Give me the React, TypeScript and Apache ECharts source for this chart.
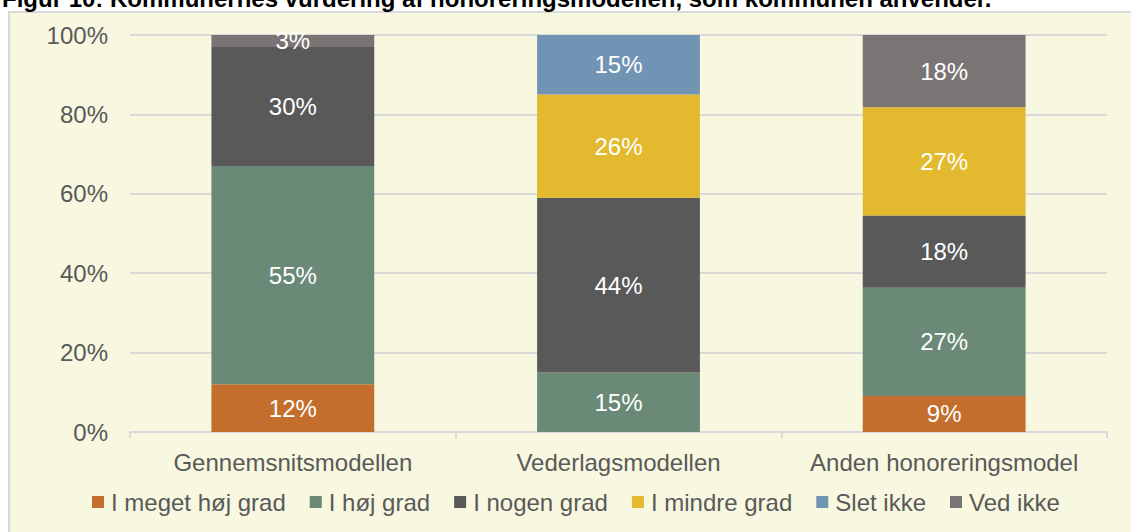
import React, { useEffect, useRef } from "react";
import * as echarts from "echarts";

const categories = ["Gennemsnitsmodellen", "Vederlagsmodellen", "Anden honoreringsmodel"];
const seriesNames = ["I meget høj grad", "I høj grad", "I nogen grad", "I mindre grad", "Slet ikke", "Ved ikke"];
const meget = [12, 0, 9.09];
const hoj = [55, 15, 27.27];
const nogen = [30, 44, 18.18];
const mindre = [0, 26, 27.27];
const slet = [0, 15, 0];
const vedIkke = [3, 0, 18.18];
const seriesValues = [meget, hoj, nogen, mindre, slet, vedIkke];
const colors = ["#C46E2E", "#6A8977", "#595959", "#E3BA2F", "#7294B4", "#7B7474"];
const yTicks = [0, 20, 40, 60, 80, 100];
const title = "Figur 10: Kommunernes vurdering af honoreringsmodellen, som kommunen anvender.";

export default function App() {
  const ref = useRef<HTMLDivElement>(null);
  useEffect(() => {
    if (!ref.current) return;
    const chart = echarts.init(ref.current, undefined, { renderer: "svg" });
    const font = "'Liberation Sans', Arial, sans-serif";
    chart.setOption({
      animation: false,
      textStyle: { fontFamily: font },
      color: colors,
      graphic: [
        {
          type: "rect",
          z: -10,
          silent: true,
          shape: { x: 9, y: 12, width: 1140, height: 540 },
          style: { fill: "#F8F7E0", stroke: "#D9D9D9", lineWidth: 2 },
        },
        {
          type: "text",
          left: 2,
          top: -14,
          silent: true,
          style: { text: title, font: "bold 24px " + font, fill: "#000000" },
        },
      ],
      grid: { left: 130, right: 24, top: 35, bottom: 100, containLabel: false },
      legend: {
        data: seriesNames,
        top: 485,
        left: 87,
        icon: "rect",
        itemWidth: 12,
        itemHeight: 12,
        itemGap: 24,
        textStyle: { fontSize: 24, color: "#595959", fontFamily: font, padding: [0, 0, 0, 2] },
      },
      xAxis: {
        type: "category",
        data: categories,
        axisLine: { lineStyle: { color: "#D9D9D9", width: 2 } },
        axisTick: { show: true, length: 6, lineStyle: { color: "#D9D9D9", width: 2 } },
        axisLabel: { color: "#595959", fontSize: 24, margin: 18, fontFamily: font, interval: 0 },
      },
      yAxis: {
        type: "value",
        min: 0,
        max: 100,
        interval: 20,
        axisLabel: {
          color: "#595959",
          fontSize: 24,
          margin: 22,
          fontFamily: font,
          formatter: (v: number) => (yTicks.includes(v) ? v + "%" : ""),
        },
        splitLine: { lineStyle: { color: "#D9D9D9", width: 2 } },
        axisLine: { show: false },
        axisTick: { show: false },
      },
      series: seriesNames.map((name, i) => ({
        name,
        type: "bar",
        stack: "total",
        barWidth: "50%",
        data: seriesValues[i].map((v) => (v === 0 ? null : v)),
        label: {
          show: true,
          position: "inside",
          color: "#FFFFFF",
          fontSize: 24,
          fontFamily: font,
          formatter: (p: any) => Math.round(p.value) + "%",
        },
      })),
    });
    return () => chart.dispose();
  }, []);
  return (
    <div
      ref={ref}
      style={{ position: "absolute", left: 0, top: 0, width: 1131, height: 532, background: "#FFFFFF" }}
    />
  );
}
